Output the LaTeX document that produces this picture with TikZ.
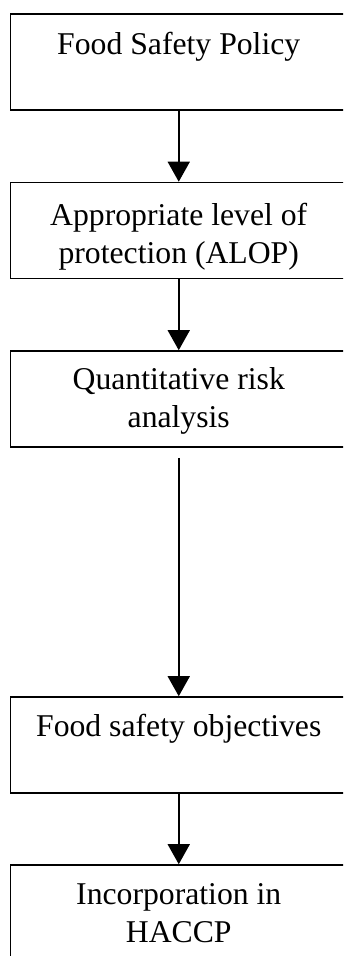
\documentclass[tikz,border=0pt]{standalone}
\usepackage{fontspec}
\setmainfont{Liberation Serif}
\usetikzlibrary{arrows.meta}

\tikzset{
  stage/.style={draw, line width=1.6pt, minimum width=336.5pt, minimum height=96pt, inner sep=0pt},
  stagetext/.style={anchor=base, align=center, inner sep=0pt, font=\fontsize{31.7}{38}\selectfont},
  flow/.style={-{Triangle[length=20pt,width=22pt]}, line width=1.6pt}
}

\begin{document}
\begin{tikzpicture}[x=1pt,y=1pt]
  \useasboundingbox (0,0) rectangle (343,-956);
  \clip (0,0) rectangle (343,-956);
  % boxes
  \node[stage] (policy) at (178.75,-62) {};
  \node[stage] (alop) at (178.75,-230.5) {};
  \node[stage] (qra) at (178.75,-399) {};
  \node[stage] (fso) at (178.75,-745) {};
  \node[stage] (haccp) at (178.75,-913) {};
  % texts (base of a two-line node is its last line)
  \node[stagetext] (policytext) at ([yshift=-41pt]policy.north) {Food Safety Policy};
  \node[stagetext] (aloptext) at ([yshift=-82pt]alop.north) {Appropriate level of\\protection (ALOP)};
  \node[stagetext] (qratext) at ([yshift=-77pt]qra.north) {Quantitative risk\\analysis};
  \node[stagetext] (fsotext) at ([yshift=-40pt]fso.north) {Food safety objectives};
  \node[stagetext] (haccptext) at ([yshift=-78pt]haccp.north) {Incorporation in\\HACCP};
  % arrows
  \draw[flow] (policy) -- (alop);
  \draw[flow] (alop) -- (qra);
  \draw[flow, shorten <=10pt] (qra) -- (fso);
  \draw[flow] (fso) -- (haccp);
\end{tikzpicture}
\end{document}
